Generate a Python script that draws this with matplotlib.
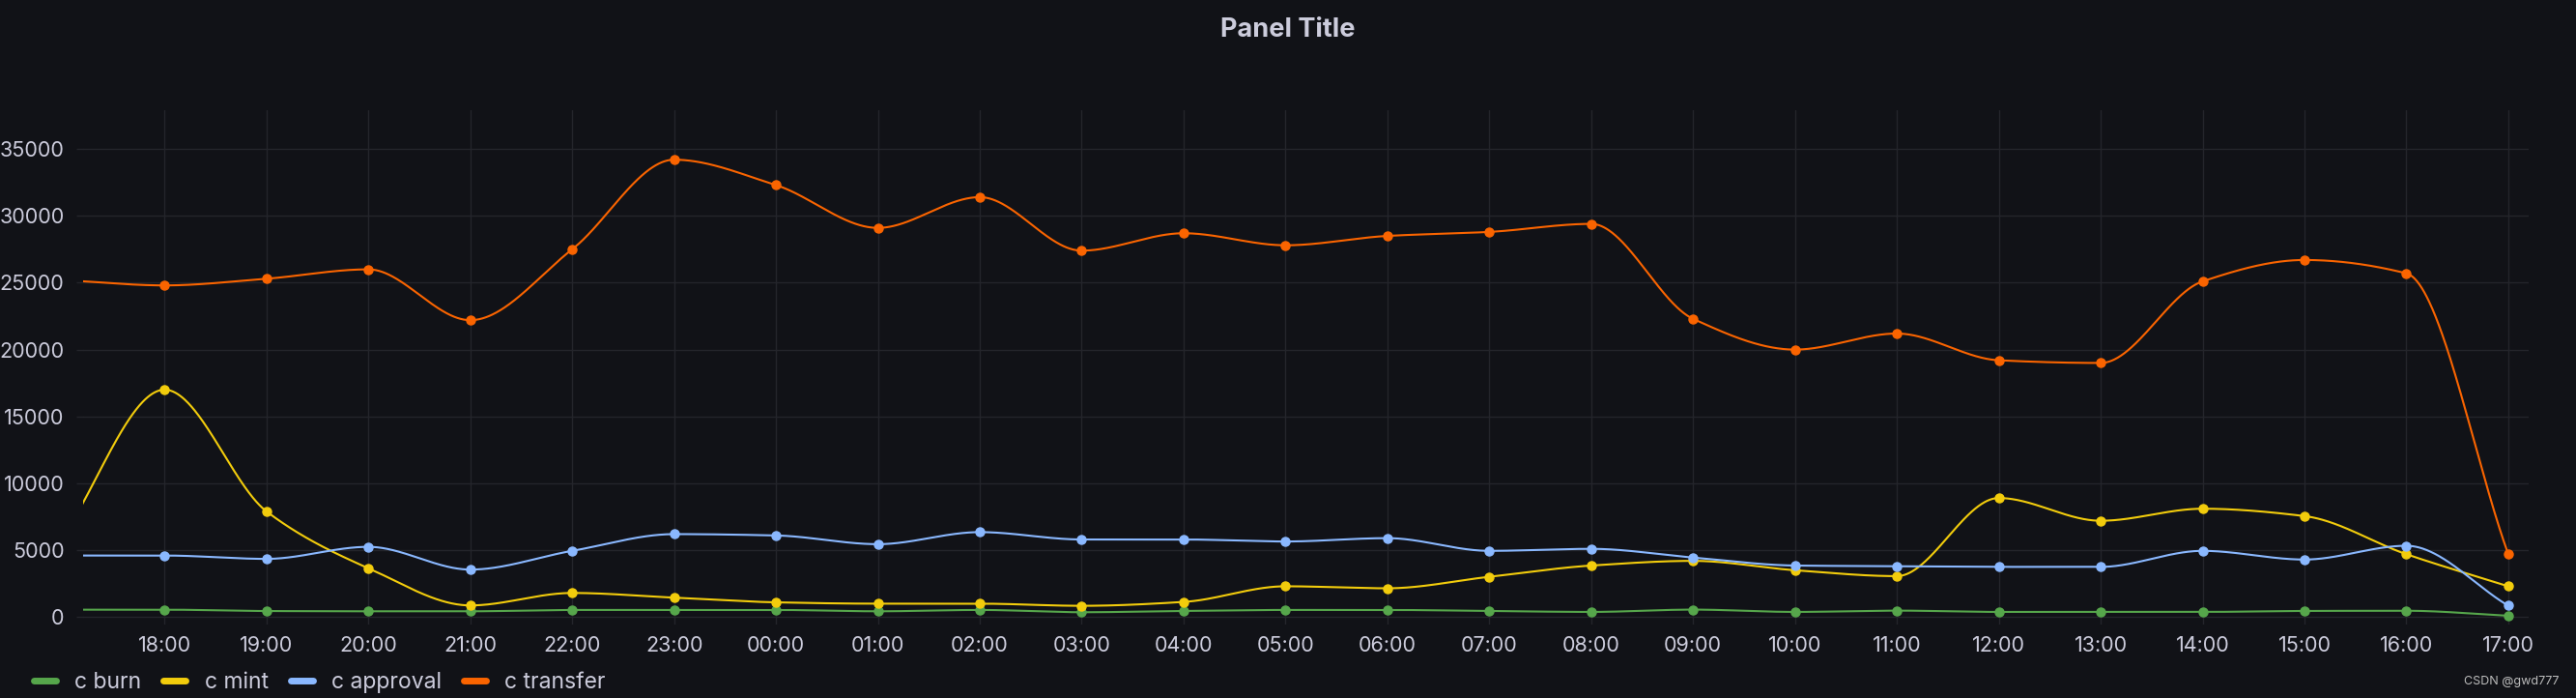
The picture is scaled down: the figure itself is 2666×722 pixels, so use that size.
import numpy as np
import matplotlib
matplotlib.use('Agg')
import matplotlib.pyplot as plt
from matplotlib.lines import Line2D

plt.rcParams['font.family'] = ['Inter', 'DejaVu Sans']

# Время (первая точка 17:00 предыдущего дня, за левым краем панели)
times = ['17:00', '18:00', '19:00', '20:00', '21:00', '22:00', '23:00', '00:00',
         '01:00', '02:00', '03:00', '04:00', '05:00', '06:00', '07:00', '08:00',
         '09:00', '10:00', '11:00', '12:00', '13:00', '14:00', '15:00', '16:00', '17:00']

c_burn = [550, 550, 450, 430, 430, 530, 530, 530, 430, 530, 360, 455, 530,
          530, 455, 383, 555, 383, 480, 383, 383, 383, 455, 470, 100]
c_mint = [6000, 17000, 7900, 3650, 870, 1800, 1450, 1100, 1000, 1000, 840, 1130,
          2300, 2150, 3010, 3850, 4200, 3500, 3060, 8900, 7200, 8100, 7550, 4700, 2300]
c_approval = [4600, 4600, 4350, 5250, 3550, 4950, 6200, 6100, 5450, 6350, 5800,
              5800, 5650, 5900, 4950, 5100, 4450, 3850, 3800, 3750, 3750, 4950,
              4300, 5330, 850]
c_transfer = [25200, 24800, 25300, 26000, 22200, 27500, 34200, 32300, 29100, 31400,
              27400, 28700, 27800, 28500, 28800, 29400, 22300, 20000, 21200, 19200,
              19000, 25100, 26700, 25700, 4700]

series = [('c burn', c_burn, '#56A64B'),
          ('c mint', c_mint, '#F2CC0C'),
          ('c approval', c_approval, '#8AB8FF'),
          ('c transfer', c_transfer, '#FA6400')]

bg = '#111217'
txt = '#ccccdc'
grid = '#24252b'


# Монотонная кубическая интерполяция (как "smooth" в Grafana)
def monotone(x, y, xs):
    x = np.asarray(x, float)
    y = np.asarray(y, float)
    h = np.diff(x)
    d = np.diff(y) / h
    m = np.zeros_like(y)
    m[0] = d[0]
    m[-1] = d[-1]
    for k in range(1, len(y) - 1):
        if d[k - 1] * d[k] <= 0:
            m[k] = 0
        else:
            w1 = 2 * h[k] + h[k - 1]
            w2 = h[k] + 2 * h[k - 1]
            m[k] = (w1 + w2) / (w1 / d[k - 1] + w2 / d[k])
    idx = np.clip(np.searchsorted(x, xs) - 1, 0, len(x) - 2)
    t = (xs - x[idx]) / h[idx]
    h00 = 2 * t**3 - 3 * t**2 + 1
    h10 = t**3 - 2 * t**2 + t
    h01 = -2 * t**3 + 3 * t**2
    h11 = t**3 - t**2
    return (h00 * y[idx] + h10 * h[idx] * m[idx]
            + h01 * y[idx + 1] + h11 * h[idx] * m[idx + 1])


x = np.arange(len(times))
xs = np.linspace(0, len(times) - 1, 3000)

fig = plt.figure(figsize=(26.66, 7.22), dpi=100, facecolor=bg)
ax = fig.add_axes([86 / 2666, 1 - 646 / 722, (2617 - 86) / 2666, (646 - 114) / 722])
ax.set_facecolor(bg)

for name, vals, col in series:
    ax.plot(xs, monotone(x, vals, xs), color=col, lw=1.5, zorder=3)
    ax.plot(x, vals, 'o', color=col, ms=6.5, zorder=4)

ax.set_xlim(0.2, 24.2)
ax.set_ylim(-560, 37900)
ax.set_xticks(x[1:])
ax.set_xticklabels(times[1:])
yt = np.arange(0, 35001, 5000)
ax.set_yticks(yt)
ax.tick_params(colors=txt, labelsize=15.5, length=0)
ax.tick_params(axis='x', pad=9)
ax.tick_params(axis='y', pad=14)
ax.grid(True, color=grid, lw=1)
ax.set_axisbelow(True)
# сетка чуть заходит за левый край области графика
ax.hlines(yt, 0.2 - 7 / 105.5, 0.2, color=grid, lw=1, clip_on=False, zorder=0)
for s in ax.spines.values():
    s.set_visible(False)

fig.text(0.5, 1 - 31 / 722, 'Panel Title', ha='center', va='center',
         color=txt, fontsize=19.5, fontweight='bold')

handles = [Line2D([], [], color=col, lw=5, solid_capstyle='round')
           for _, _, col in series]
fig.legend(handles, [s[0] for s in series], loc='center left',
           bbox_to_anchor=(35 / 2666, 1 - 706 / 722), ncol=4, frameon=False,
           fontsize=16.5, labelcolor=txt, handlelength=1.0, handletextpad=0.85,
           columnspacing=1.0, borderpad=0, borderaxespad=0)

fig.text(2649 / 2666, 1 - 705 / 722, 'CSDN @gwd777', ha='right', va='center',
         color='#bdbdbd', fontsize=9)

fig.savefig('out.png', dpi=100, facecolor=bg)
